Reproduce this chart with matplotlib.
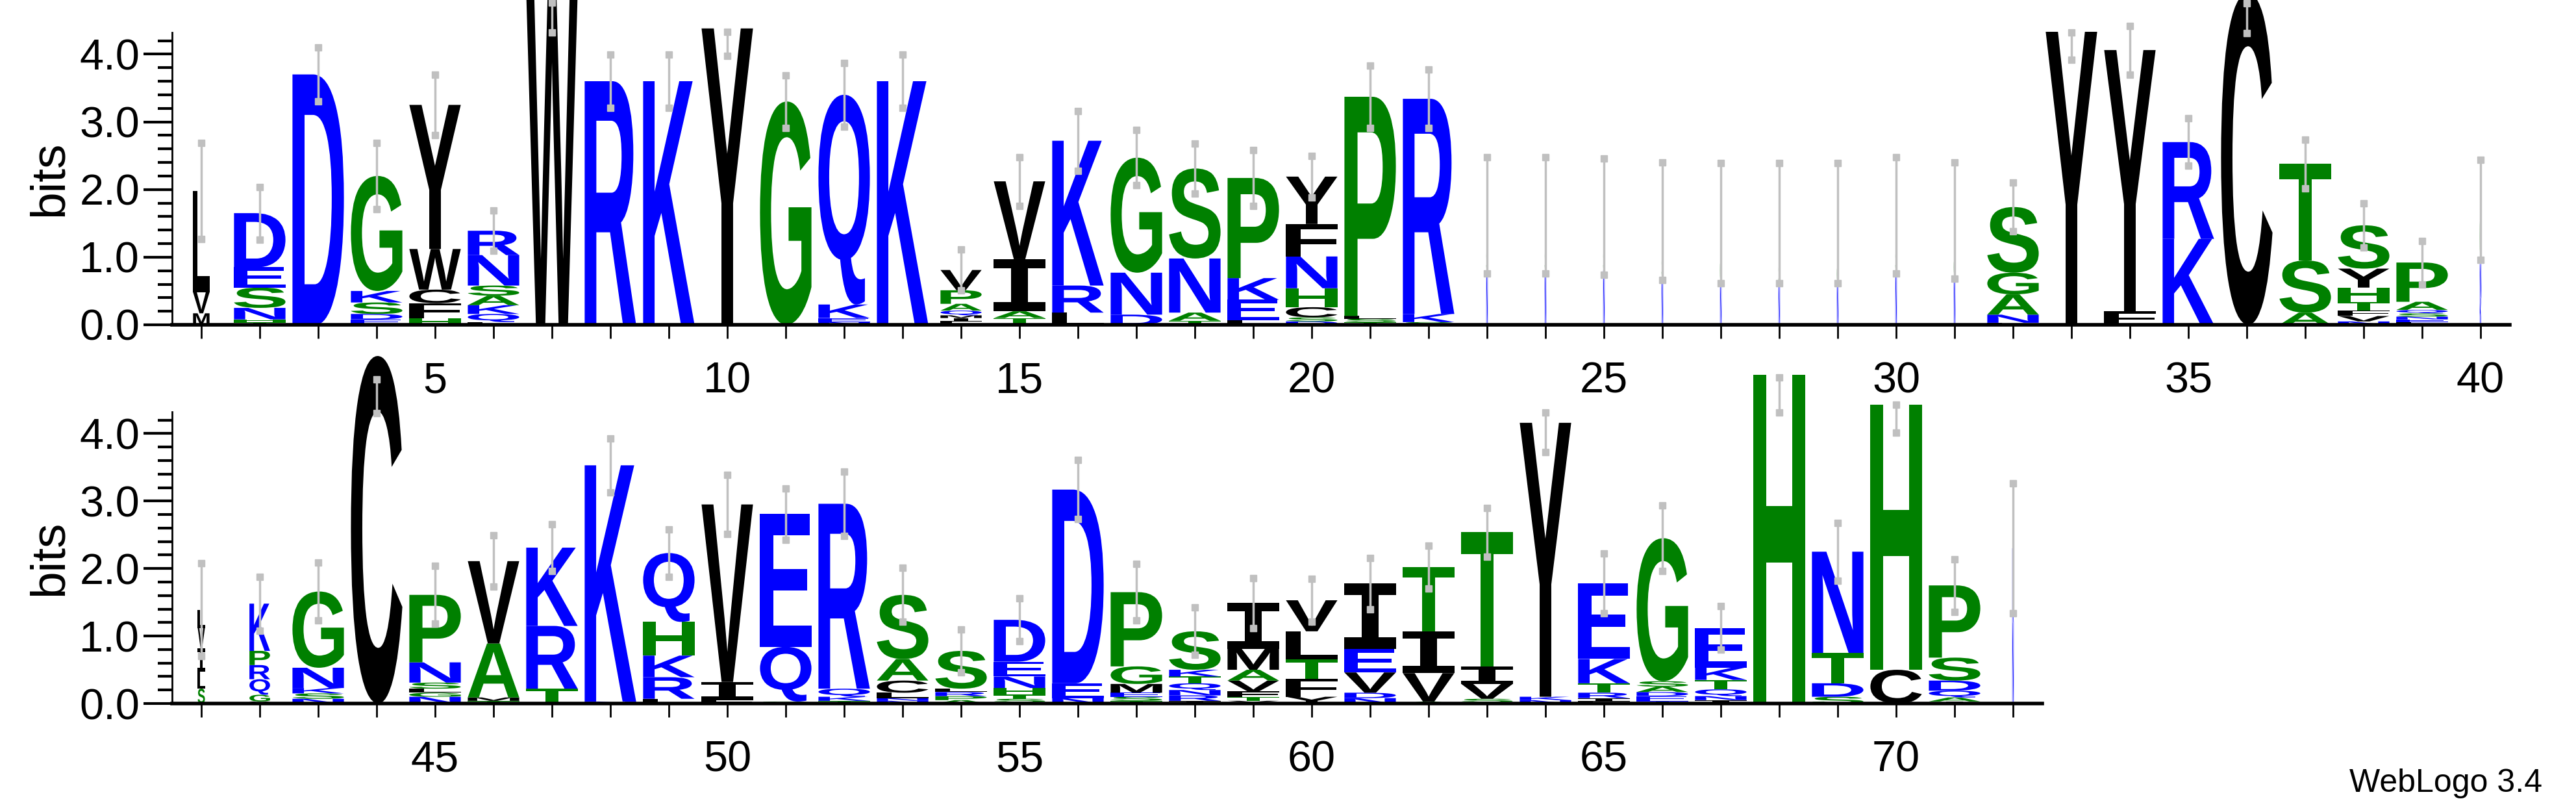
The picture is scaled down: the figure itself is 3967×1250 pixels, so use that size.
import matplotlib
matplotlib.use("Agg")
import matplotlib.pyplot as plt
from matplotlib.textpath import TextPath
from matplotlib.patches import PathPatch
from matplotlib.font_manager import FontProperties
from matplotlib.transforms import Affine2D

plt.rcParams['font.family'] = ['Liberation Sans', 'DejaVu Sans']

# logo columns: letters bottom -> top with heights in bits
columns = [
    [('M', .17), ('V', .31), ('L', 1.5)],                                       # 1
    [('T', .04), ('H', .04), ('N', .17), ('S', .3), ('E', .3), ('D', .8)],      # 2
    [('D', 3.7)],
    [('E', .08), ('D', .08), ('S', .17), ('K', .17), ('G', 1.7)],
    [('H', .1), ('F', .22), ('C', .2), ('W', .6), ('Y', 2.13)],                 # 5
    [('L', .04), ('Q', .12), ('K', .13), ('A', .14), ('S', .15), ('N', .45), ('R', .36)],
    [('W', 4.9)],
    [('R', 3.6)],
    [('K', 3.6)],
    [('Y', 4.38)],                                                              # 10
    [('G', 3.3)],
    [('N', .04), ('E', .06), ('K', .2), ('Q', 3.1)],
    [('K', 3.6)],
    [('L', .05), ('I', .05), ('M', .04), ('Q', .07), ('A', .1), ('P', .2), ('V', .3)],
    [('T', .1), ('A', .1), ('I', .77), ('V', 1.15)],                             # 15
    [('L', .18), ('R', .4), ('K', 2.14)],
    [('D', .15), ('N', .62), ('G', 1.7)],
    [('T', .06), ('A', .12), ('N', .8), ('S', 1.33)],
    [('L', .07), ('E', .3), ('K', .32), ('P', 1.48)],
    [('D', .05), ('S', .06), ('C', .15), ('H', .28), ('N', .47), ('F', .48), ('Y', .7)],  # 20
    [('T', .04), ('S', .05), ('L', .04), ('P', 3.24)],
    [('S', .04), ('K', .12), ('R', 3.18)],
    [('N', .8), ('S', .3), ('L', .52)],
    [('N', .8), ('S', .3), ('L', .52)],
    [('N', .8), ('S', .3), ('L', .5)],                                          # 25
    [('N', .7), ('S', .3), ('L', .53)],
    [('N', .6), ('G', .4), ('L', .5)],
    [('N', .6), ('S', .3), ('L', .6)],
    [('N', .6), ('G', .3), ('L', .6)],
    [('N', .8), ('S', .3), ('L', .52)],                                         # 30
    [('N', .7), ('G', .3), ('L', .54)],
    [('L', .03), ('N', .12), ('A', .3), ('G', .32), ('S', .97)],
    [('Y', 4.33)],
    [('F', .2), ('Y', 3.86)],
    [('K', 1.27), ('R', 1.43)],                                                 # 35
    [('C', 4.9)],
    [('A', .18), ('S', .77), ('T', 1.43)],
    [('N', .05), ('V', .08), ('F', .08), ('T', .13), ('H', .21), ('Y', .28), ('S', .64)],
    [('L', .04), ('E', .04), ('N', .04), ('S', .05), ('Q', .05), ('A', .12), ('P', .58)],
    [('K', .4), ('N', .5), ('G', .8)],                                          # 40
    [('S', .22), ('L', .25), ('I', .35), ('V', .3), ('L', .27)],
    [('V', .03), ('G', .1), ('Q', .23), ('R', .21), ('P', .21), ('K', .7)],
    [('N', .07), ('S', .08), ('K', .08), ('N', .3), ('G', 1.13)],
    [('C', 5.15)],
    [('N', .1), ('G', .06), ('L', .06), ('S', .09), ('N', .3), ('P', 1.0)],   # 45
    [('T', .04), ('M', .05), ('A', .8), ('V', 1.22)],
    [('T', .22), ('R', .93), ('K', 1.16)],
    [('N', .03), ('K', 3.5)],
    [('L', .07), ('R', .32), ('K', .32), ('H', .5), ('Q', 1.02)],
    [('F', .06), ('I', .26), ('V', 2.63)],                                      # 50
    [('S', .03), ('Q', .81), ('E', 1.97)],
    [('T', .04), ('K', .06), ('Q', .12), ('R', 2.74)],
    [('N', .04), ('N', .04), ('L', .08), ('C', .18), ('A', .32), ('S', .95)],
    [('A', .05), ('P', .06), ('R', .06), ('L', .05), ('S', .56)],
    [('L', .02), ('S', .05), ('T', .06), ('H', .1), ('N', .17), ('E', .22), ('D', .62)],  # 55
    [('N', .08), ('E', .22), ('D', 2.87)],
    [('T', .04), ('S', .06), ('E', .06), ('M', .13), ('G', .26), ('P', 1.1)],
    [('I', .04), ('R', .08), ('N', .08), ('Q', .1), ('T', .1), ('K', .1), ('S', .57)],
    [('Y', .04), ('T', .06), ('F', .08), ('V', .16), ('A', .16), ('M', .31), ('I', .68)],
    [('Y', .1), ('F', .27), ('T', .28), ('L', .42), ('V', .46)],                # 60
    [('N', .08), ('D', .08), ('V', .3), ('E', .35), ('I', .97)],
    [('A', .03), ('V', .42), ('I', .62), ('T', .95)],
    [('I', .02), ('S', .05), ('V', .22), ('I', .26), ('T', 1.99)],
    [('N', .05), ('K', .05), ('Y', 4.06)],
    [('L', .03), ('I', .05), ('R', .08), ('T', .14), ('K', .36), ('E', 1.12)],  # 65
    [('T', .03), ('E', .08), ('D', .06), ('A', .08), ('S', .08), ('G', 2.12)],
    [('I', .05), ('N', .06), ('Q', .1), ('T', .14), ('K', .18), ('E', .59)],
    [('H', 4.87)],
    [('S', .1), ('D', .2), ('T', .45), ('N', 1.5)],
    [('C', .5), ('H', 3.93)],                                                   # 70
    [('I', .03), ('A', .06), ('Q', .1), ('D', .15), ('S', .34), ('P', 1.07)],
    [('N', 1.2), ('K', .6), ('D', .5)],
]

# error bar half widths (bits), centred on column height unless overridden
err_half = [.71, .39, .4, .49, .45, .3, .22, .39, .39, .18,
            .39, .47, .39, .3, .36, .44, .41, .37, .41, .31,
            .46, .43, .86, .86, .86, .87, .89, .89, .89, .86,
            .86, .36, .2, .36, .35, .22, .36, .33, .32, .74,
            .69, .4, .43, .25, .43, .38, .35, .4, .35, .44,
            .38, .48, .4, .32, .32, .44, .42, .35, .37, .32,
            .38, .32, .36, .29, .44, .49, .32, .26, .43, .21,
            .39, .96]
err_center = {7: 4.54, 10: 4.15, 33: 4.12, 36: 4.53, 44: 4.55, 64: 4.02, 68: 4.57, 70: 4.22}

# relative column widths (gappy columns are drawn narrow)
col_width = {1: .32, 14: .8, 41: .14, 42: .4, 40: .03, 72: .03,
             23: .03, 24: .03, 25: .03, 26: .03, 27: .03, 28: .03, 29: .03, 30: .03, 31: .03}

blue = 'DENKRQ'
green = 'GSTPAH'
def letter_color(c):
    if c in blue:
        return '#0000ff'
    if c in green:
        return '#008000'
    return '#000000'

fp = FontProperties(family='Liberation Sans', weight='bold')
fp_serif_i = FontProperties(family='DejaVu Sans Mono', weight='bold')  # 'I' with bars
paths = {}

def draw_letter(ax, ch, x, y, w, h):
    if ch not in paths:
        paths[ch] = TextPath((0, 0), ch, size=1, prop=fp_serif_i if ch == 'I' else fp)
    p = paths[ch]
    ext = p.get_extents()
    tr = Affine2D().translate(-ext.x0, -ext.y0).scale(w / ext.width, h / ext.height) \
        .translate(x - w / 2, y)
    ax.add_patch(PathPatch(tr.transform_path(p), facecolor=letter_color(ch),
                           edgecolor='none', clip_on=False))

fig = plt.figure(figsize=(39.67, 12.5), dpi=100)
ax_top = fig.add_axes([265 / 3967, 0.6, 3600 / 3967, 0.36])
ax_bot = fig.add_axes([265 / 3967, 1 - 1083 / 1250, 2880 / 3967, 0.359])

for ax, start, end in [(ax_top, 1, 40), (ax_bot, 41, 72)]:
    for pos in range(start, end + 1):
        stack = columns[pos - 1]
        w = 0.88 * col_width.get(pos, 1.0)
        y = 0.0
        for ch, h in stack:
            draw_letter(ax, ch, pos, y, w, h)
            y += h
        c = err_center.get(pos, y)
        e = err_half[pos - 1]
        ax.plot([pos, pos], [c - e, c + e], color='#c0c0c0', lw=2.5, clip_on=False,
                marker='s', markersize=7, zorder=5)

    ax.set_xlim(start - 0.5, end + 0.5)
    ax.set_ylim(0, 4.32)
    for s in ['top', 'right']:
        ax.spines[s].set_visible(False)
    ax.spines['bottom'].set_linewidth(4)
    ax.spines['left'].set_linewidth(2)
    ax.set_xticks(range(start, end + 1))
    ax.set_xticklabels([str(i) if i % 5 == 0 else '' for i in range(start, end + 1)])
    ax.set_yticks([0, 1, 2, 3, 4])
    ax.set_yticklabels(['0.0', '1.0', '2.0', '3.0', '4.0'])
    ax.set_yticks([i * 0.2 for i in range(22)], minor=True)
    ax.tick_params(axis='y', which='major', length=32, width=3, labelsize=48, pad=4)
    ax.tick_params(axis='y', which='minor', length=16, width=3)
    ax.tick_params(axis='x', length=15, width=2, labelsize=48, pad=26)
    ax.set_ylabel('bits', fontsize=54, labelpad=8)

fig.text(0.987, 0.017, 'WebLogo 3.4', ha='right', va='bottom', fontsize=36)

fig.savefig('out.png', dpi=100)
